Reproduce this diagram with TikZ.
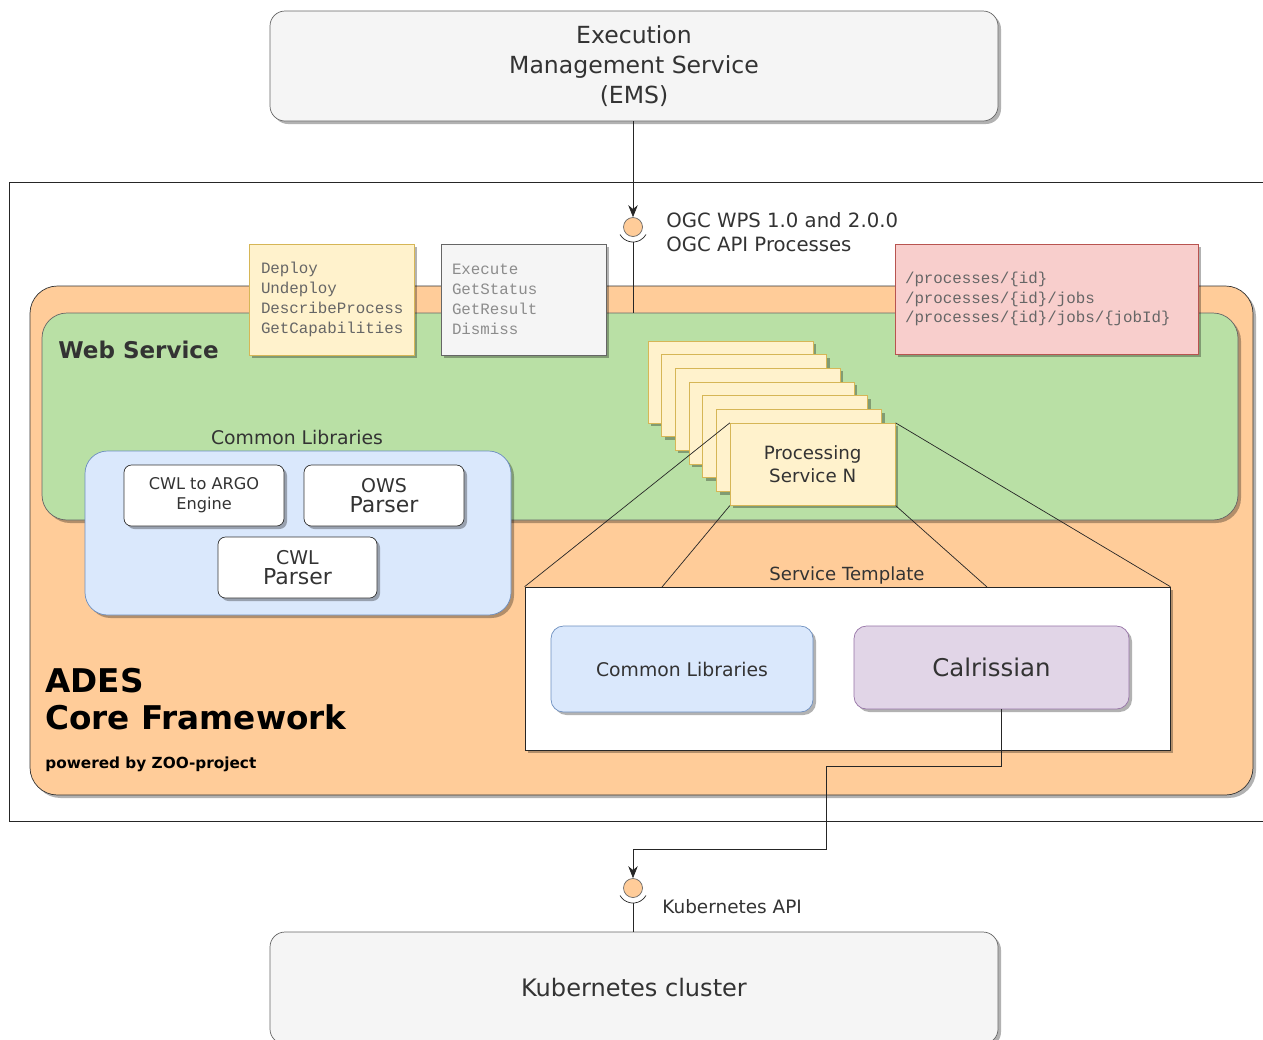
\documentclass[tikz,border=0pt]{standalone}
\usepackage{fontspec}
\setmainfont{DejaVu Sans}
\setmonofont{Liberation Mono}
\usepackage{tikz}
\usetikzlibrary{positioning,fit,shadows,arrows.meta,calc}

\definecolor{boxgray}{HTML}{F5F5F5}
\definecolor{linegray}{HTML}{666666}
\definecolor{adesfill}{HTML}{FFCC99}
\definecolor{wsfill}{HTML}{B9E0A5}
\definecolor{libfill}{HTML}{DAE8FC}
\definecolor{libline}{HTML}{6C8EBF}
\definecolor{notefill}{HTML}{FFF2CC}
\definecolor{noteline}{HTML}{D6B656}
\definecolor{restfill}{HTML}{F8CECC}
\definecolor{restline}{HTML}{B85450}
\definecolor{calrfill}{HTML}{E1D5E7}
\definecolor{calrline}{HTML}{9673A6}
\definecolor{txt}{HTML}{333333}

\begin{document}
\begin{tikzpicture}[
x=0.02cm, y=-0.02cm,
MyShadow/.style={drop shadow={shadow xshift=0.06cm,shadow yshift=-0.06cm,opacity=0.3,fill=black}},
GrayBox/.style={fill=boxgray,draw=linegray,rounded corners=0.3cm,MyShadow,inner sep=0},
Container/.style={rounded corners=0.55cm,MyShadow,inner sep=0},
WhiteBox/.style={fill=white,draw=black!80,rounded corners=0.15cm,MyShadow,inner sep=0},
NoteBox/.style={fill=notefill,draw=noteline,MyShadow,inner sep=0},
MonoText/.style={font=\ttfamily\fontsize{9}{11.3}\selectfont,align=left,inner sep=0,anchor=west},
Label/.style={text=txt,inner sep=0,align=center},
Socket/.style={circle,fill=adesfill,draw=linegray,minimum size=0.38cm,inner sep=0},
Conn/.style={draw=black!85,thin},
every node/.style={scale=1}
]
\useasboundingbox (0,0) rectangle (1263,1039);

% EMS on top
\node[GrayBox, fit={(270,11) (998,121)}] (ems) {};
\node[Label, font=\fontsize{13.4}{17}\selectfont] (emsText) at (ems.center)
  {Execution\\Management Service\\(EMS)};

% outer frame, right side runs off the page
\node[draw=black!85, fill=white, inner sep=0, fit={(9,182) (1290,821)}] (frame) {};

% ADES and web service
\node[Container, fill=adesfill, draw=black!80, fit={(30,286) (1253,795)}] (ades) {};
\node[Container, fill=wsfill, draw=linegray, rounded corners=0.5cm, fit={(42,313) (1238,520)}] (web) {};
\node[Label, anchor=west, font=\bfseries\fontsize{13.1}{16}\selectfont] (webLabel) at (58,350) {Web Service};

\node[Label, anchor=west, align=left, font=\bfseries\fontsize{18.6}{21.5}\selectfont, text=black] (adesLabel)
  at (45,699) {ADES\\Core Framework};
\node[Label, anchor=west, font=\bfseries\fontsize{8.7}{10}\selectfont, text=black] (zooLabel)
  at (45,764) {powered by ZOO-project};

% common libraries of the web service
\node[Container, fill=libfill, draw=libline, rounded corners=0.45cm, fit={(85,451) (511,615)}] (libs) {};
\node[Label, font=\fontsize{10.7}{13}\selectfont] (libsLabel) at (297,437) {Common Libraries};
\node[WhiteBox, fit={(124,465) (284,526)}] (cwlargo) {};
\node[Label, font=\fontsize{9.2}{11.5}\selectfont] (cwlargoText) at (cwlargo.center) {CWL to ARGO\\Engine};
\node[WhiteBox, fit={(304,465) (464,526)}] (ows) {};
\node[Label] (owsText) at (ows.center)
  {{\fontsize{10.8}{12}\selectfont OWS}\\[-1pt]{\fontsize{12.5}{13}\selectfont Parser}};
\node[WhiteBox, fit={(218,537) (377,598)}] (cwlparser) {};
\node[Label] (cwlparserText) at (cwlparser.center)
  {{\fontsize{10.8}{12}\selectfont CWL}\\[-1pt]{\fontsize{12.5}{13}\selectfont Parser}};

% operation notes
\node[NoteBox, fit={(249,244) (414,355)}] (wpsops) {};
\node[MonoText, text=black!60] (wpsopsText) at ([xshift=0.24cm]wpsops.west)
  {Deploy\\Undeploy\\DescribeProcess\\GetCapabilities};
\node[GrayBox, rounded corners=0, fit={(441,244) (606,355)}] (jobops) {};
\node[MonoText, text=black!45] (jobopsText) at ([xshift=0.22cm]jobops.west)
  {Execute\\GetStatus\\GetResult\\Dismiss};
\node[NoteBox, fill=restfill, draw=restline, fit={(895,244) (1198,354)}] (rest) {};
\node[MonoText, text=black!60] (restText) at ([xshift=0.2cm]rest.west)
  {/processes/\{id\}\\/processes/\{id\}/jobs\\/processes/\{id\}/jobs/\{jobId\}};

% interface to the EMS
\node[Socket] (sockA) at (633,227) {};
\draw[Conn] (sockA.center) ++(210:0.3cm) arc[start angle=210,end angle=330,radius=0.3cm];
\coordinate (sockAfoot) at (633,242);
\draw[Conn] (sockAfoot) -- (sockAfoot |- web.north);
\draw[Conn, -{Stealth[length=0.24cm,width=0.19cm]}] (ems.south -| sockA) -- (sockA.north);
\node[Label, anchor=west, align=left, font=\fontsize{11.2}{13.6}\selectfont] (ogcLabel) at (666,232)
  {OGC WPS 1.0 and 2.0.0\\OGC API Processes};

% stack of processing services
\foreach \i in {0,...,6} {
  \node[NoteBox, fit={({648+13.7*\i},{341+13.7*\i}) ({813+13.7*\i},{423+13.7*\i})}] (card\i) {};
}
\node[Label, font=\fontsize{10.4}{13}\selectfont] (cardText) at (card6.center) {Processing\\Service N};

% service template
\node[fill=white, draw=black!85, MyShadow, inner sep=0, fit={(525,587) (1170,750)}] (tmpl) {};
\node[Label, font=\fontsize{10.3}{13}\selectfont] (tmplLabel) at (847,575) {Service Template};
\node[WhiteBox, fill=libfill, draw=libline, rounded corners=0.25cm, fit={(551,626) (813,712)}] (tmplLibs) {};
\node[Label, font=\fontsize{10.7}{13}\selectfont] (tmplLibsText) at (tmplLibs.center) {Common Libraries};
\node[WhiteBox, fill=calrfill, draw=calrline, rounded corners=0.25cm, fit={(854,626) (1129,709)}] (calr) {};
\node[Label, font=\fontsize{13.9}{16}\selectfont] (calrText) at (calr.center) {Calrissian};

\coordinate (fanA) at (662,587);
\coordinate (fanB) at (987,587);
\draw[Conn] (card6.north west) -- (tmpl.north west);
\draw[Conn] (card6.north east) -- (tmpl.north east);
\draw[Conn] (card6.south west) -- (fanA);
\draw[Conn] (card6.south east) -- (fanB);

% kubernetes
\node[GrayBox, fit={(270,932) (998,1044)}] (kube) {};
\node[Label, font=\fontsize{13.7}{17}\selectfont] (kubeText) at (kube.center) {Kubernetes cluster};
\node[Socket] (sockB) at (633,888) {};
\draw[Conn] (sockB.center) ++(210:0.3cm) arc[start angle=210,end angle=330,radius=0.3cm];
\coordinate (sockBfoot) at (633,903);
\draw[Conn] (sockBfoot) -- (sockBfoot |- kube.north);
\coordinate (bendA) at (826,766);
\coordinate (bendB) at (826,849);
\draw[Conn, -{Stealth[length=0.24cm,width=0.19cm]}] ([xshift=0.19cm]calr.south) |- (bendA) -- (bendB) -| (sockB.north);
\node[Label, anchor=west, font=\fontsize{10.5}{13}\selectfont] (kubeLabel) at (662,907) {Kubernetes API};

\end{tikzpicture}
\end{document}
